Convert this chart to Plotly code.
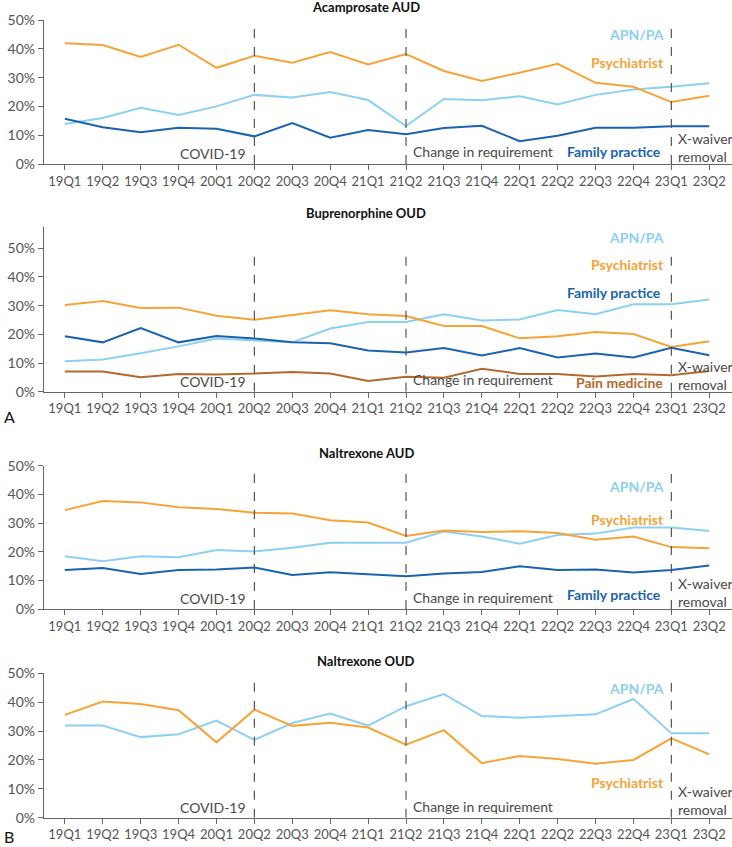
import plotly.graph_objects as go

quarters = ["19Q1", "19Q2", "19Q3", "19Q4", "20Q1", "20Q2", "20Q3", "20Q4", "21Q1",
            "21Q2", "21Q3", "21Q4", "22Q1", "22Q2", "22Q3", "22Q4", "23Q1", "23Q2"]

acamp_psych = [41.9, 41.3, 37.2, 41.4, 33.4, 37.6, 35.2, 38.9, 34.6, 38.2, 32.3, 28.8, 31.7, 34.8, 28.2, 26.8, 21.5, 23.7]
acamp_apn = [13.9, 16.0, 19.5, 17.0, 20.0, 24.0, 23.1, 25.0, 22.2, 13.2, 22.6, 22.1, 23.5, 20.7, 24.0, 25.9, 26.8, 28.0]
acamp_fp = [15.7, 12.8, 11.0, 12.6, 12.2, 9.6, 14.2, 9.1, 11.8, 10.3, 12.5, 13.3, 7.9, 9.8, 12.6, 12.6, 13.1, 13.1]

bup_psych = [30.2, 31.6, 29.2, 29.3, 26.5, 25.1, 26.7, 28.4, 27.0, 26.4, 22.9, 22.9, 18.6, 19.3, 20.8, 20.1, 15.6, 17.6]
bup_fp = [19.3, 17.2, 22.2, 17.2, 19.4, 18.5, 17.2, 16.9, 14.4, 13.7, 15.2, 12.6, 15.2, 11.9, 13.3, 11.9, 15.3, 12.7]
bup_apn = [10.6, 11.2, 13.4, 15.8, 18.5, 17.8, 17.2, 22.0, 24.3, 24.3, 27.0, 24.8, 25.2, 28.5, 27.0, 30.5, 30.5, 32.1]
bup_pain = [7.0, 7.0, 5.0, 6.2, 6.0, 6.3, 6.9, 6.3, 3.7, 5.2, 4.9, 8.0, 6.2, 6.2, 5.3, 6.2, 5.7, 7.2]

nal_aud_psych = [34.5, 37.7, 37.2, 35.5, 34.9, 33.6, 33.3, 31.0, 30.2, 25.5, 27.4, 26.9, 27.1, 26.5, 24.2, 25.3, 21.6, 21.2]
nal_aud_apn = [18.4, 16.7, 18.4, 18.1, 20.6, 20.1, 21.4, 23.1, 23.1, 23.1, 27.0, 25.3, 22.8, 25.8, 26.3, 28.4, 28.4, 27.2]
nal_aud_fp = [13.6, 14.3, 12.2, 13.6, 13.8, 14.5, 11.9, 12.8, 12.1, 11.4, 12.4, 12.9, 14.9, 13.6, 13.8, 12.7, 13.6, 15.2]

nal_oud_psych = [35.6, 40.2, 39.4, 37.2, 26.1, 37.4, 31.8, 32.9, 31.2, 25.3, 30.3, 18.9, 21.4, 20.3, 18.7, 20.0, 27.5, 21.9]
nal_oud_apn = [31.9, 31.9, 27.9, 28.9, 33.6, 26.9, 32.8, 36.1, 31.9, 38.6, 42.8, 35.2, 34.6, 35.2, 35.8, 41.1, 29.2, 29.2]

y_ticks = [0, 10, 20, 30, 40, 50]
y_tick_labels = ["0%", "10%", "20%", "30%", "40%", "50%"]

events = ["20Q2", "21Q2", "23Q1"]
event_labels = ["COVID-19", "Change in requirement", "X-waiver<br>removal"]

titles = ["Acamprosate AUD", "Buprenorphine OUD", "Naltrexone AUD", "Naltrexone OUD"]

C_APN = "#8DD0F2"
C_PSY = "#F6A437"
C_FP = "#1A63AE"
C_PAIN = "#B4692D"
TXT = "#4a4a4a"
FONT = "Lato"

W, H = 732, 847
# panel pixel geometry: (top px of axis, bottom px of axis, ymax)
panels = [(20, 164, 50), (227, 391.7, 57.4), (465.7, 609, 50), (673.3, 817.7, 50)]
title_px = [7, 213, 452.7, 661]

panel_series = [
    [("APN/PA", acamp_apn, C_APN), ("Psychiatrist", acamp_psych, C_PSY), ("Family practice", acamp_fp, C_FP)],
    [("APN/PA", bup_apn, C_APN), ("Psychiatrist", bup_psych, C_PSY), ("Family practice", bup_fp, C_FP),
     ("Pain medicine", bup_pain, C_PAIN)],
    [("APN/PA", nal_aud_apn, C_APN), ("Psychiatrist", nal_aud_psych, C_PSY), ("Family practice", nal_aud_fp, C_FP)],
    [("APN/PA", nal_oud_apn, C_APN), ("Psychiatrist", nal_oud_psych, C_PSY)],
]

# label placement (y in % units) per panel
label_y = [
    {"APN/PA": 44.8, "Psychiatrist": 35.1, "Family practice": 4.2},
    {"APN/PA": 53.7, "Psychiatrist": 44.2, "Family practice": 34.7, "Pain medicine": 3.1},
    {"APN/PA": 42.7, "Psychiatrist": 31.4, "Family practice": 4.9},
    {"APN/PA": 44.8, "Psychiatrist": 12.3},
]
label_xshift = {"APN/PA": -5, "Psychiatrist": -5, "Family practice": -8, "Pain medicine": -6}
event_y = [[3.6, 4.2, 5.9], [3.6, 4.2, 5.8], [3.6, 3.9, 5.6], [3.6, 3.9, 5.9]]

fig = go.Figure()
layout = dict(
    width=W, height=H, margin=dict(l=0, r=0, t=0, b=0, autoexpand=False),
    paper_bgcolor="white", plot_bgcolor="white", showlegend=False,
    font=dict(family=FONT, color=TXT),
)
annotations = []
shapes = []

xdom = [44 / W, 1.0]
xrange = [-0.55, 17.6]

for i, (top, bot, ymax) in enumerate(panels):
    n = i + 1
    xa = "x" if n == 1 else f"x{n}"
    ya = "y" if n == 1 else f"y{n}"
    for name, vals, col in panel_series[i]:
        fig.add_trace(go.Scatter(x=quarters, y=vals, mode="lines", name=name,
                                 line=dict(color=col, width=2), xaxis=xa, yaxis=ya,
                                 hoverinfo="skip"))
    layout[f"xaxis{'' if n == 1 else n}"] = dict(
        domain=xdom, anchor=ya, type="category", categoryorder="array", categoryarray=quarters,
        range=xrange, showgrid=False, zeroline=False, showline=True, linecolor="#666", linewidth=1.3,
        ticks="outside", ticklen=5, tickcolor="#666", tickwidth=1.2, automargin=False,
        tickfont=dict(family=FONT, size=13, color="#555"), fixedrange=True,
    )
    layout[f"yaxis{'' if n == 1 else n}"] = dict(
        domain=[1 - bot / H, 1 - top / H], anchor=xa, range=[0, ymax],
        tickvals=y_ticks, ticktext=y_tick_labels, showgrid=False, zeroline=False,
        showline=True, linecolor="#666", linewidth=1.3, ticks="outside", ticklen=5,
        tickcolor="#666", tickwidth=1.2, tickfont=dict(family=FONT, size=14, color="#555"),
        fixedrange=True, automargin=False,
    )
    # title
    annotations.append(dict(text=f"<b>{titles[i]}</b>", xref="paper", yref="paper", x=0.5,
                            y=1 - title_px[i] / H, showarrow=False, xanchor="center", yanchor="middle",
                            font=dict(family=FONT, size=13, color="#111")))
    # event lines
    for k, ev in enumerate(events):
        xi = quarters.index(ev)
        shapes.append(dict(type="line", xref=xa, yref=ya, x0=xi, x1=xi, y0=0, y1=49,
                           line=dict(color="#555", width=1.2, dash="dash")))
        if k == 0:
            anchor, shift = "right", -6
        else:
            anchor, shift = "left", 5
        annotations.append(dict(text=event_labels[k], xref=xa, yref=ya, x=xi, y=event_y[i][k],
                                xanchor=anchor, yanchor="middle", xshift=shift, showarrow=False,
                                align="left", font=dict(family=FONT, size=14, color=TXT)))
    # series labels
    xi_end = quarters.index("23Q1")
    for name, vals, col in panel_series[i]:
        annotations.append(dict(text=f"<b>{name}</b>", xref=xa, yref=ya, x=xi_end,
                                y=label_y[i][name], xanchor="right", yanchor="middle",
                                xshift=label_xshift[name], showarrow=False,
                                font=dict(family=FONT, size=14, color=col)))

annotations.append(dict(text="A", xref="paper", yref="paper", x=2 / W, y=1 - 416 / H,
                        xanchor="left", yanchor="middle", showarrow=False,
                        font=dict(family=FONT, size=16, color="#111")))
annotations.append(dict(text="B", xref="paper", yref="paper", x=2 / W, y=1 - 836 / H,
                        xanchor="left", yanchor="middle", showarrow=False,
                        font=dict(family=FONT, size=16, color="#111")))

layout["annotations"] = annotations
layout["shapes"] = shapes
fig.update_layout(**layout)
fig.write_html("out.html", config={"displayModeBar": False},
               post_script="document.body.style.margin='0px';document.body.style.overflow='hidden';")
